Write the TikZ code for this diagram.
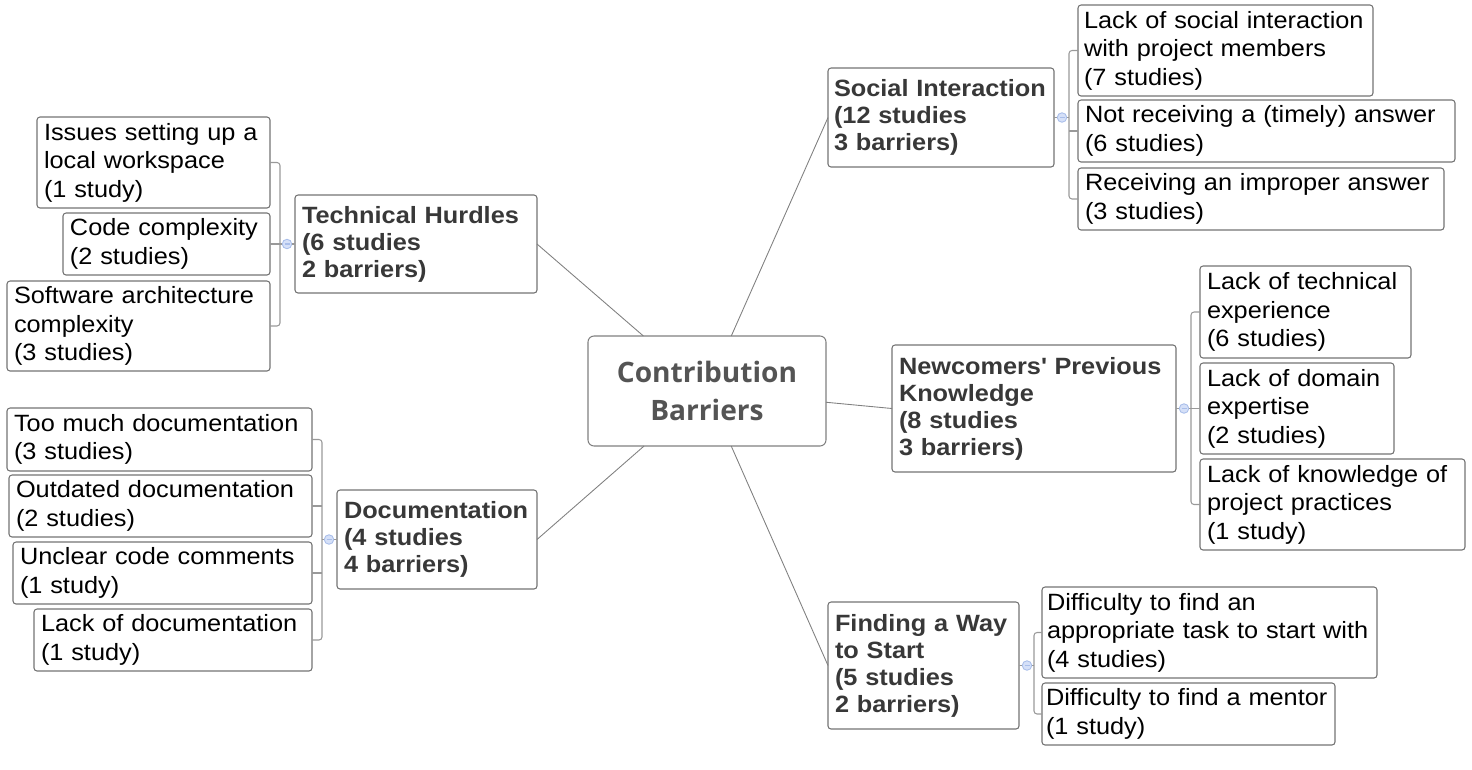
\documentclass[tikz,border=0pt]{standalone}
\usepackage{fontspec}
\setmainfont{Liberation Sans}[FakeStretch=1.075]
\newfontfamily\rootfont{Open Sans}
\usepackage{tikz}

\newlength{\pxd}
\setlength{\pxd}{0.02cm}
\definecolor{dotfill}{HTML}{D5E0F8}
\definecolor{dotdraw}{HTML}{A9BEEA}

\begin{document}
\begin{tikzpicture}[x=0.02cm, y=-0.02cm,
    leaf/.style={draw=black!55, line width=0.6pt, rounded corners=3\pxd, align=left,
      inner xsep=7\pxd, inner ysep=0pt, outer sep=0pt, font=\fontsize{13.4}{16.2}\selectfont},
    topic/.style={leaf, text=black!78, font=\fontsize{13.4}{15.4}\selectfont\bfseries},
    root/.style={draw=black!50, line width=0.6pt, rounded corners=6\pxd, align=center,
      text=black!67, outer sep=0pt, font=\rootfont\bfseries\fontsize{16}{21.6}\selectfont},
    link/.style={draw=black!50, line width=0.5pt},
    bar/.style={draw=black!40, line width=0.6pt, rounded corners=3\pxd},
    fold/.style={circle, draw=dotdraw, fill=dotfill, line width=0.5pt, minimum size=9.5\pxd,
      inner sep=0pt, outer sep=0pt,
      path picture={\draw[dotdraw, line width=0.6pt]
        ([xshift=-2.5\pxd]path picture bounding box.center) --
        ([xshift=2.5\pxd]path picture bounding box.center);}}
  ]
    \useasboundingbox (0,0) rectangle (1472,769);

    % centre
    \node[root, minimum width=238\pxd, minimum height=110\pxd] (root) at (707,391) {Contribution\\Barriers};

    % Technical Hurdles
    \node[topic, text width=228\pxd, minimum height=98\pxd] (th) at (416,244) {Technical Hurdles\\(6 studies\\2 barriers)};
    \node[leaf, text width=219\pxd, minimum height=91\pxd] (issues) at (153.5,162.5) {Issues setting up a\\local workspace\\(1 study)};
    \node[leaf, text width=193\pxd, minimum height=62\pxd] (code) at (166.5,244) {Code complexity\\(2 studies)};
    \node[leaf, text width=249\pxd, minimum height=90\pxd] (softarch) at (138.5,326) {Software architecture\\complexity\\(3 studies)};
    \node[fold] (thdot) at ([xshift=-8\pxd]th.west) {};
    \coordinate (thbar) at ([xshift=-7\pxd]thdot.center);
    \draw[bar] (th.west) -- (thdot) -- (thbar);
    \draw[bar] (issues.east) -| (thbar |- softarch.east) -- (softarch.east);
    \draw[bar] (code.east) -- (code.east -| thbar);

    % Documentation
    \node[topic, text width=186\pxd, minimum height=99\pxd] (doc) at (437,539.5) {Documentation\\(4 studies\\4 barriers)};
    \node[leaf, text width=291\pxd, minimum height=63\pxd] (toomuch) at (159.5,439.5) {Too much documentation\\(3 studies)};
    \node[leaf, text width=289\pxd, minimum height=62\pxd] (outdated) at (160.5,506) {Outdated documentation\\(2 studies)};
    \node[leaf, text width=285\pxd, minimum height=62\pxd] (unclear) at (162.5,573) {Unclear code comments\\(1 study)};
    \node[leaf, text width=264\pxd, minimum height=62\pxd] (lackdoc) at (173,640) {Lack of documentation\\(1 study)};
    \node[fold] (docdot) at ([xshift=-8\pxd]doc.west) {};
    \coordinate (docbar) at ([xshift=-7\pxd]docdot.center);
    \draw[bar] (doc.west) -- (docdot) -- (docbar);
    \draw[bar] (toomuch.east) -| (docbar |- lackdoc.east) -- (lackdoc.east);
    \foreach \c in {outdated,unclear}
        \draw[bar] (\c.east) -- (\c.east -| docbar);

    % Social Interaction
    \node[topic, inner xsep=6\pxd, text width=214\pxd, minimum height=99\pxd] (si) at (941,117.5) {Social Interaction\\(12 studies\\3 barriers)};
    \node[leaf, inner xsep=6\pxd, text width=283\pxd, minimum height=91\pxd] (lacksoc) at (1225.5,50.5) {Lack of social interaction\\with project members\\(7 studies)};
    \node[leaf, text width=363\pxd, minimum height=62\pxd] (notrecv) at (1266.5,131) {Not receiving a (timely) answer\\(6 studies)};
    \node[leaf, text width=352\pxd, minimum height=62\pxd] (improper) at (1261,199) {Receiving an improper answer\\(3 studies)};
    \node[fold] (sidot) at ([xshift=8\pxd]si.east) {};
    \coordinate (sibar) at ([xshift=7\pxd]sidot.center);
    \draw[bar] (si.east) -- (sidot) -- (sibar);
    \draw[bar] (lacksoc.west) -| (sibar |- improper.west) -- (improper.west);
    \draw[bar] (notrecv.west) -- (notrecv.west -| sibar);

    % Newcomers' Previous Knowledge
    \node[topic, text width=270\pxd, minimum height=127\pxd] (npk) at (1034,408.5) {Newcomers\textquotesingle{} Previous\\Knowledge\\(8 studies\\3 barriers)};
    \node[leaf, text width=197\pxd, minimum height=92\pxd] (lacktech) at (1305.5,312) {Lack of technical\\experience\\(6 studies)};
    \node[leaf, text width=180\pxd, minimum height=91\pxd] (lackdomain) at (1297,408.5) {Lack of domain\\expertise\\(2 studies)};
    \node[leaf, text width=251\pxd, minimum height=91\pxd] (lackknow) at (1332.5,504.5) {Lack of knowledge of\\project practices\\(1 study)};
    \node[fold] (npkdot) at ([xshift=8\pxd]npk.east) {};
    \coordinate (npkbar) at ([xshift=7\pxd]npkdot.center);
    \draw[bar] (npk.east) -- (npkdot) -- (npkbar);
    \draw[bar] (lacktech.west) -| (npkbar |- lackknow.west) -- (lackknow.west);
    \draw[bar] (lackdomain.west) -- (lackdomain.west -| npkbar);

    % Finding a Way to Start
    \node[topic, text width=177\pxd, minimum height=127\pxd] (fws) at (923.5,665.5) {Finding a Way\\to Start\\(5 studies\\2 barriers)};
    \node[leaf, inner xsep=5\pxd, text width=325\pxd, minimum height=91\pxd] (difftask) at (1209.5,632.5) {Difficulty to find an\\appropriate task to start with\\(4 studies)};
    \node[leaf, inner xsep=4\pxd, text width=285\pxd, minimum height=62\pxd] (diffmentor) at (1188.5,714) {Difficulty to find a mentor\\(1 study)};
    \node[fold] (fwsdot) at ([xshift=8\pxd]fws.east) {};
    \coordinate (fwsbar) at ([xshift=7\pxd]fwsdot.center);
    \draw[bar] (fws.east) -- (fwsdot) -- (fwsbar);
    \draw[bar] (difftask.west) -| (fwsbar |- diffmentor.west) -- (diffmentor.west);

    % links from the centre
    \draw[link] (root) -- (th.east);
    \draw[link] (root) -- (doc.east);
    \draw[link] (root) -- (si.west);
    \draw[link] (root) -- (npk.west);
    \draw[link] (root) -- (fws.west);
\end{tikzpicture}
\end{document}
